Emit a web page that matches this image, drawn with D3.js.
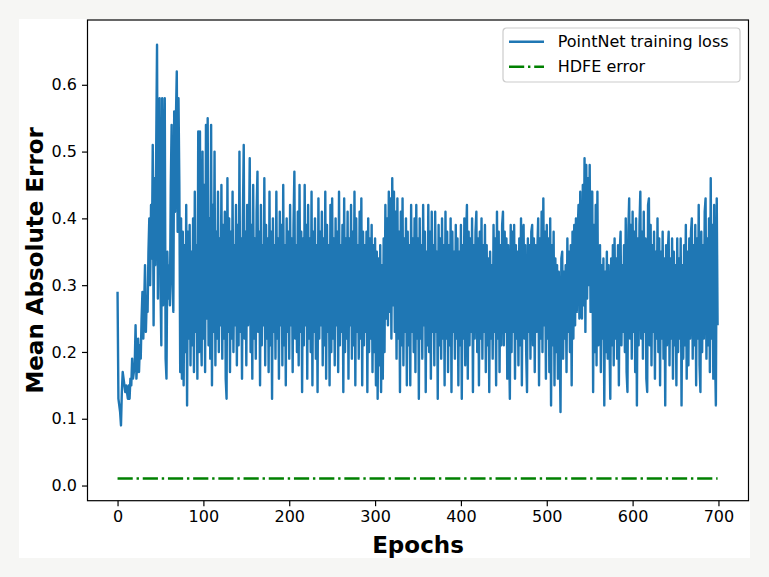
<!DOCTYPE html>
<html>
<head>
<meta charset="utf-8">
<script src="https://cdn.jsdelivr.net/npm/d3@7"></script>
<style>
  body { margin: 0; background: #f6f6f4; }
  svg { display: block; }
  text { font-family: "DejaVu Sans", sans-serif; fill: #000; }
</style>
</head>
<body>
<svg id="chart"></svg>
<script>
// PointNet training loss per epoch (0..699)
const trainingLoss = [
  0.29, 0.13, 0.12, 0.11, 0.09, 0.14, 0.17, 0.16, 0.15, 0.14,
  0.15, 0.14, 0.13, 0.15, 0.13, 0.16, 0.15, 0.19, 0.16, 0.17,
  0.18, 0.24, 0.16, 0.19, 0.22, 0.17, 0.21, 0.19, 0.25, 0.29,
  0.22, 0.27, 0.33, 0.23, 0.28, 0.26, 0.35, 0.40, 0.30, 0.42,
  0.34, 0.51, 0.24, 0.46, 0.33, 0.50, 0.66, 0.28, 0.55, 0.58,
  0.30, 0.21, 0.58, 0.27, 0.45, 0.58, 0.19, 0.16, 0.35, 0.28,
  0.33, 0.27, 0.45, 0.54, 0.30, 0.26, 0.56, 0.41, 0.55, 0.62,
  0.38, 0.58, 0.45, 0.17, 0.40, 0.16, 0.38, 0.15, 0.36, 0.20,
  0.42, 0.12, 0.38, 0.22, 0.39, 0.18, 0.35, 0.21, 0.40, 0.17,
  0.44, 0.23, 0.36, 0.16, 0.53, 0.20, 0.53, 0.24, 0.18, 0.50,
  0.22, 0.45, 0.17, 0.54, 0.25, 0.55, 0.21, 0.40, 0.19, 0.54,
  0.15, 0.42, 0.23, 0.50, 0.18, 0.38, 0.22, 0.44, 0.20, 0.37,
  0.24, 0.45, 0.19, 0.39, 0.22, 0.41, 0.16, 0.13, 0.46, 0.23,
  0.40, 0.17, 0.38, 0.22, 0.44, 0.20, 0.36, 0.24, 0.42, 0.18,
  0.39, 0.21, 0.50, 0.23, 0.37, 0.16, 0.40, 0.51, 0.22, 0.38,
  0.18, 0.42, 0.24, 0.36, 0.49, 0.20, 0.39, 0.16, 0.45, 0.22,
  0.37, 0.19, 0.41, 0.47, 0.23, 0.38, 0.15, 0.42, 0.21, 0.36,
  0.24, 0.46, 0.18, 0.39, 0.22, 0.37, 0.17, 0.44, 0.21, 0.38,
  0.13, 0.40, 0.23, 0.36, 0.19, 0.44, 0.22, 0.37, 0.16, 0.41,
  0.24, 0.39, 0.18, 0.45, 0.21, 0.36, 0.15, 0.40, 0.23, 0.38,
  0.19, 0.42, 0.24, 0.37, 0.17, 0.39, 0.47, 0.22, 0.36, 0.20,
  0.41, 0.18, 0.45, 0.23, 0.38, 0.14, 0.37, 0.21, 0.45, 0.24,
  0.39, 0.16, 0.42, 0.22, 0.37, 0.20, 0.44, 0.15, 0.38, 0.23,
  0.40, 0.19, 0.36, 0.14, 0.43, 0.22, 0.38, 0.24, 0.41, 0.18,
  0.37, 0.21, 0.44, 0.16, 0.39, 0.23, 0.36, 0.15, 0.42, 0.20,
  0.43, 0.22, 0.37, 0.18, 0.40, 0.24, 0.38, 0.17, 0.44, 0.21,
  0.36, 0.23, 0.39, 0.14, 0.43, 0.20, 0.37, 0.22, 0.41, 0.16,
  0.37, 0.24, 0.42, 0.19, 0.38, 0.21, 0.44, 0.15, 0.40, 0.23,
  0.36, 0.19, 0.41, 0.22, 0.43, 0.15, 0.38, 0.21, 0.36, 0.23,
  0.38, 0.14, 0.40, 0.20, 0.37, 0.22, 0.39, 0.17, 0.36, 0.20,
  0.37, 0.15, 0.35, 0.13, 0.34, 0.18, 0.36, 0.14, 0.33, 0.16,
  0.37, 0.20, 0.42, 0.25, 0.40, 0.24, 0.44, 0.26, 0.43, 0.22,
  0.46, 0.27, 0.44, 0.23, 0.41, 0.19, 0.43, 0.22, 0.38, 0.14,
  0.41, 0.21, 0.43, 0.18, 0.37, 0.23, 0.40, 0.15, 0.38, 0.21,
  0.36, 0.15, 0.42, 0.23, 0.37, 0.20, 0.40, 0.17, 0.42, 0.22,
  0.37, 0.13, 0.40, 0.22, 0.36, 0.19, 0.42, 0.24, 0.38, 0.14,
  0.35, 0.21, 0.42, 0.20, 0.38, 0.16, 0.41, 0.23, 0.36, 0.18,
  0.41, 0.23, 0.35, 0.13, 0.39, 0.21, 0.37, 0.19, 0.40, 0.22,
  0.36, 0.15, 0.41, 0.22, 0.38, 0.17, 0.36, 0.21, 0.40, 0.14,
  0.38, 0.23, 0.35, 0.19, 0.39, 0.22, 0.37, 0.15, 0.35, 0.21,
  0.39, 0.13, 0.36, 0.22, 0.40, 0.18, 0.37, 0.42, 0.16, 0.38,
  0.21, 0.37, 0.23, 0.40, 0.14, 0.36, 0.22, 0.38, 0.41, 0.20,
  0.37, 0.15, 0.38, 0.22, 0.40, 0.19, 0.36, 0.23, 0.39, 0.17,
  0.36, 0.21, 0.34, 0.14, 0.35, 0.22, 0.33, 0.19, 0.39, 0.23,
  0.37, 0.15, 0.41, 0.22, 0.38, 0.17, 0.36, 0.21, 0.39, 0.41,
  0.21, 0.38, 0.23, 0.37, 0.16, 0.36, 0.22, 0.13, 0.39, 0.20,
  0.38, 0.23, 0.39, 0.16, 0.36, 0.22, 0.35, 0.18, 0.37, 0.21,
  0.40, 0.15, 0.38, 0.39, 0.22, 0.36, 0.20, 0.14, 0.37, 0.23,
  0.36, 0.19, 0.38, 0.39, 0.21, 0.37, 0.17, 0.36, 0.23, 0.35,
  0.40, 0.15, 0.37, 0.22, 0.41, 0.20, 0.43, 0.24, 0.38, 0.16,
  0.39, 0.22, 0.37, 0.17, 0.40, 0.12, 0.36, 0.21, 0.38, 0.15,
  0.34, 0.20, 0.33, 0.16, 0.32, 0.22, 0.11, 0.34, 0.35, 0.19,
  0.32, 0.22, 0.33, 0.17, 0.37, 0.23, 0.35, 0.20, 0.36, 0.15,
  0.38, 0.22, 0.39, 0.24, 0.40, 0.26, 0.38, 0.42, 0.25, 0.44,
  0.26, 0.25, 0.45, 0.27, 0.49, 0.23, 0.48, 0.28, 0.46, 0.30,
  0.48, 0.26, 0.44, 0.44, 0.14, 0.39, 0.20, 0.42, 0.18, 0.44,
  0.21, 0.35, 0.36, 0.17, 0.33, 0.22, 0.34, 0.12, 0.32, 0.20,
  0.35, 0.19, 0.33, 0.22, 0.13, 0.34, 0.21, 0.36, 0.18, 0.37,
  0.22, 0.34, 0.19, 0.36, 0.15, 0.35, 0.38, 0.21, 0.33, 0.23,
  0.36, 0.20, 0.40, 0.17, 0.14, 0.38, 0.43, 0.22, 0.39, 0.19,
  0.41, 0.23, 0.38, 0.17, 0.40, 0.12, 0.37, 0.21, 0.39, 0.44,
  0.22, 0.38, 0.19, 0.41, 0.23, 0.37, 0.16, 0.14, 0.42, 0.43,
  0.21, 0.39, 0.18, 0.36, 0.23, 0.38, 0.16, 0.35, 0.22, 0.40,
  0.20, 0.37, 0.15, 0.35, 0.22, 0.38, 0.19, 0.34, 0.12, 0.36,
  0.21, 0.35, 0.38, 0.18, 0.34, 0.22, 0.37, 0.16, 0.35, 0.21,
  0.33, 0.15, 0.37, 0.20, 0.34, 0.22, 0.37, 0.12, 0.33, 0.19,
  0.36, 0.21, 0.39, 0.16, 0.35, 0.18, 0.37, 0.22, 0.38, 0.40,
  0.19, 0.36, 0.21, 0.39, 0.15, 0.37, 0.22, 0.42, 0.18, 0.14,
  0.38, 0.20, 0.36, 0.22, 0.41, 0.43, 0.19, 0.37, 0.21, 0.40,
  0.17, 0.46, 0.22, 0.39, 0.16, 0.42, 0.20, 0.12, 0.43, 0.24
];

// HDFE error (constant reference line)
const hdfeEpochs = [0, 699];
const hdfeError = [0.0105, 0.0105];

const xTicks = [0, 100, 200, 300, 400, 500, 600, 700];
const yTicks = [0.0, 0.1, 0.2, 0.3, 0.4, 0.5, 0.6];
const seriesNames = ["PointNet training loss", "HDFE error"];

const W = 769, H = 577;
const fig = { left: 19, top: 19, right: 750, bottom: 558 };
const margin = { top: 20, right: 20.5, bottom: 76.3, left: 87.5 };
const width = W - margin.left - margin.right;
const height = H - margin.top - margin.bottom;

const blue = "#1f77b4", green = "#008000";
const fontSize = 16;

const svg = d3.select("#chart")
  .attr("width", W)
  .attr("height", H);

svg.append("rect")
  .attr("x", fig.left).attr("y", fig.top)
  .attr("width", fig.right - fig.left)
  .attr("height", fig.bottom - fig.top)
  .attr("fill", "#fff");

const g = svg.append("g")
  .attr("transform", `translate(${margin.left}, ${margin.top})`);

const xScale = d3.scaleLinear()
  .domain([-35, 735])
  .range([0, width]);

const yScale = d3.scaleLinear()
  .domain([-0.0227, 0.697])
  .range([height, 0]);

const lossData = trainingLoss.map((v, i) => [i, v]);
const hdfeData = hdfeEpochs.map((e, i) => [e, hdfeError[i]]);

const line = d3.line()
  .x(d => xScale(d[0]))
  .y(d => yScale(d[1]));

g.append("path")
  .datum(lossData)
  .attr("fill", "none")
  .attr("stroke", blue)
  .attr("stroke-width", 2.4)
  .attr("stroke-linejoin", "round")
  .attr("d", line);

g.append("path")
  .datum(hdfeData)
  .attr("fill", "none")
  .attr("stroke", green)
  .attr("stroke-width", 2.4)
  .attr("stroke-dasharray", "15.2,3.8,2.4,3.8")
  .attr("d", line);

// axes
const xAxis = d3.axisBottom(xScale)
  .tickValues(xTicks)
  .tickSize(5.5)
  .tickPadding(4.5)
  .tickFormat(d3.format("d"));

const yAxis = d3.axisLeft(yScale)
  .tickValues(yTicks)
  .tickSize(5.5)
  .tickPadding(5)
  .tickFormat(d3.format(".1f"));

const gx = g.append("g")
  .attr("transform", `translate(0, ${height})`)
  .call(xAxis);

const gy = g.append("g").call(yAxis);

[gx, gy].forEach(ax => {
  ax.select(".domain").remove();
  ax.selectAll(".tick line").attr("stroke", "#000").attr("stroke-width", 1.2);
  ax.selectAll(".tick text")
    .attr("font-family", "DejaVu Sans")
    .attr("font-size", fontSize)
    .attr("fill", "#000");
});

// frame
g.append("rect")
  .attr("width", width)
  .attr("height", height)
  .attr("fill", "none")
  .attr("stroke", "#000")
  .attr("stroke-width", 1.2);

// axis labels
svg.append("text")
  .attr("x", margin.left + width / 2)
  .attr("y", 553)
  .attr("text-anchor", "middle")
  .attr("font-size", 23)
  .attr("font-weight", "bold")
  .text("Epochs");

svg.append("text")
  .attr("transform", `translate(43, ${margin.top + height / 2}) rotate(-90)`)
  .attr("text-anchor", "middle")
  .attr("font-size", 23)
  .attr("font-weight", "bold")
  .text("Mean Absolute Error");

// legend
const legend = svg.append("g").attr("transform", "translate(503, 28)");

legend.append("rect")
  .attr("width", 237)
  .attr("height", 54)
  .attr("rx", 3.5)
  .attr("fill", "#fff")
  .attr("fill-opacity", 0.8)
  .attr("stroke", "#cccccc")
  .attr("stroke-width", 1.2);

const styles = [
  { color: blue, dash: null },
  { color: green, dash: "15.2,3.8,2.4,3.8" }
];

seriesNames.forEach((name, i) => {
  const y = 13.7 + i * 25;
  legend.append("line")
    .attr("x1", 6).attr("x2", 41)
    .attr("y1", y).attr("y2", y)
    .attr("stroke", styles[i].color)
    .attr("stroke-width", 2.4)
    .attr("stroke-dasharray", styles[i].dash);
  legend.append("text")
    .attr("x", 54.7)
    .attr("y", y)
    .attr("dy", "0.36em")
    .attr("font-size", fontSize)
    .text(name);
});
</script>
</body>
</html>
